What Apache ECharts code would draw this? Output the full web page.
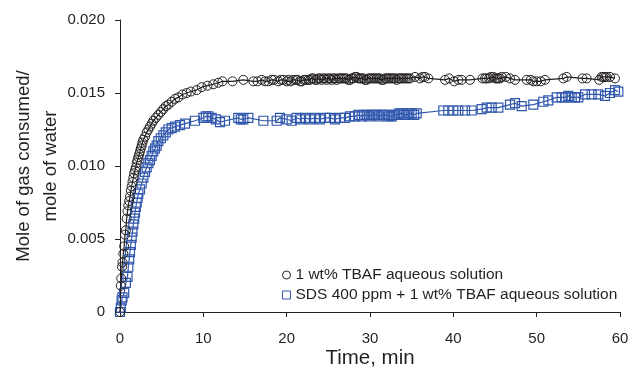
<!DOCTYPE html>
<html><head><meta charset="utf-8">
<script src="https://cdn.jsdelivr.net/npm/echarts@6/dist/echarts.min.js"></script>
<style>html,body{margin:0;padding:0;background:#fff}#c{width:628px;height:374px}</style>
</head><body><div id="c"></div>
<script>
const seriesNames = ['1 wt% TBAF aqueous solution', 'SDS 400 ppm + 1 wt% TBAF aqueous solution'];
const xTicks = [0, 10, 20, 30, 40, 50, 60];
const yTicks = [0, 0.005, 0.010, 0.015, 0.020];

const tbafTime = [0,0.1,0.15,0.25,0.3,0.4,0.5,0.6,0.7,0.8,0.9,1.0,1.1,1.2,1.3,1.4,1.5,1.6,1.7,1.8,1.9,2.0,2.1,2.2,2.3,2.4,2.5,2.6,2.7,2.8,3.0,3.2,3.4,3.6,3.8,4.0,4.3,4.6,4.9,5.2,5.5,5.8,6.2,6.6,7.0,7.5,8.0,8.5,9.2,9.8,10.5,11.2,11.8,12.3,13.5,14.8,16.0,16.5,17.0,17.4,17.8,18.2,18.5,19.0,19.3,19.6,20.0,20.2,20.5,20.8,21.1,21.3,21.6,21.8,22.1,22.3,22.6,22.8,23.0,23.2,23.4,23.6,23.8,24.0,24.2,24.4,24.6,24.8,25.0,25.2,25.4,25.6,25.8,26.0,26.2,26.4,26.6,26.8,27.0,27.2,27.4,27.6,27.8,28.0,28.2,28.4,28.6,28.8,29.0,29.2,29.4,29.6,29.8,30.0,30.2,30.4,30.6,30.8,31.0,31.2,31.4,31.6,31.8,32.0,32.2,32.4,32.6,32.8,33.0,33.2,33.4,33.6,33.8,34.0,34.2,34.4,34.6,34.8,35.4,36.0,36.3,36.6,37.0,39.0,39.5,40.1,40.6,41.0,42.0,43.5,43.8,44.0,44.3,44.5,44.8,45.0,45.2,45.4,45.6,45.8,46.3,46.8,47.4,48.8,49.3,49.6,50.0,50.5,51.0,53.2,53.6,55.5,56.0,57.5,57.8,58.0,58.2,58.4,58.8,59.4];
const tbafValue = [0,0.0018,0.0023,0.0031,0.0034,0.0040,0.0045,0.0053,0.0056,0.0064,0.0069,0.0073,0.0076,0.0079,0.0083,0.0086,0.0089,0.0092,0.0095,0.0097,0.0099,0.0102,0.0104,0.0106,0.0108,0.0110,0.0112,0.0114,0.0116,0.0118,0.0120,0.0123,0.0125,0.0127,0.0129,0.0131,0.0133,0.0135,0.0137,0.0139,0.0141,0.0142,0.0144,0.0146,0.0147,0.0149,0.0150,0.0151,0.0152,0.0154,0.0155,0.0156,0.0157,0.0158,0.0158,0.0159,0.0158,0.0158,0.0159,0.0158,0.0158,0.0159,0.0159,0.0158,0.0159,0.0159,0.0158,0.0159,0.0158,0.0159,0.0159,0.0159,0.0158,0.0158,0.0159,0.0159,0.0159,0.0159,0.0160,0.0160,0.0159,0.0159,0.0160,0.0160,0.0159,0.0160,0.0160,0.0159,0.0160,0.0160,0.0159,0.0160,0.0160,0.0159,0.0160,0.0160,0.0160,0.0160,0.0160,0.0160,0.0159,0.0159,0.0160,0.0160,0.0161,0.0161,0.0160,0.0160,0.0160,0.0160,0.0159,0.0159,0.0160,0.0160,0.0160,0.0160,0.0160,0.0160,0.0160,0.0160,0.0159,0.0159,0.0160,0.0160,0.0160,0.0160,0.0160,0.0160,0.0160,0.0159,0.0160,0.0160,0.0160,0.0160,0.0160,0.0160,0.0160,0.0160,0.0161,0.0160,0.0161,0.0161,0.0160,0.0159,0.0160,0.0158,0.0159,0.0159,0.0159,0.0160,0.0160,0.0160,0.0160,0.0161,0.0161,0.0160,0.0160,0.0160,0.0160,0.0161,0.0161,0.0160,0.0159,0.0159,0.0159,0.0158,0.0158,0.0158,0.0159,0.0160,0.0161,0.0160,0.0160,0.0159,0.0161,0.0161,0.0161,0.0161,0.0161,0.0160,0.0160];

const sdsTime = [0,0.1,0.2,0.3,0.5,0.7,0.9,1.0,1.1,1.2,1.3,1.4,1.5,1.6,1.7,1.8,1.9,2.0,2.1,2.2,2.4,2.6,2.8,3.0,3.2,3.4,3.6,3.8,4.0,4.2,4.4,4.6,4.9,5.2,5.5,5.8,6.2,6.6,7.2,7.8,9.0,10.0,10.3,10.6,11.0,11.5,12.0,12.6,14.2,14.5,14.8,15.4,17.2,18.8,19.2,20.0,20.6,21.2,21.6,22.2,22.8,23.4,24.0,24.6,25.2,25.8,26.4,27.0,27.6,28.2,28.6,29.0,29.3,29.6,29.9,30.2,30.5,30.8,31.1,31.4,31.7,32.0,32.3,32.6,32.9,33.2,33.5,33.8,34.1,34.4,34.7,35.0,35.3,35.6,38.8,39.4,40.0,40.6,41.4,42.2,43.4,44.0,44.6,45.4,46.8,47.4,48.2,49.6,50.8,51.4,52.4,53.0,53.4,53.8,54.2,54.6,55.0,55.8,56.6,57.4,58.2,58.8,59.4,59.8];
const sdsValue = [0,0.0003,0.0008,0.0010,0.0013,0.0020,0.0024,0.0031,0.0036,0.0041,0.0046,0.0051,0.0055,0.0060,0.0064,0.0068,0.0072,0.0075,0.0078,0.0081,0.0084,0.0088,0.0092,0.0096,0.0099,0.0102,0.0104,0.0107,0.0110,0.0112,0.0114,0.0117,0.0119,0.0121,0.0123,0.0125,0.0126,0.0127,0.0128,0.0129,0.0131,0.0133,0.0134,0.0134,0.0133,0.0132,0.0130,0.0131,0.0133,0.0132,0.0132,0.0133,0.0131,0.0131,0.0133,0.0132,0.0131,0.0133,0.0132,0.0133,0.0132,0.0133,0.0132,0.0133,0.0133,0.0132,0.0133,0.0133,0.0134,0.0134,0.0135,0.0134,0.0135,0.0135,0.0134,0.0135,0.0135,0.0135,0.0134,0.0135,0.0135,0.0135,0.0134,0.0134,0.0135,0.0135,0.0136,0.0136,0.0135,0.0135,0.0136,0.0136,0.0135,0.0136,0.0138,0.0138,0.0138,0.0138,0.0138,0.0138,0.0139,0.0140,0.0140,0.0140,0.0142,0.0143,0.0141,0.0142,0.0144,0.0145,0.0147,0.0147,0.0147,0.0148,0.0147,0.0147,0.0147,0.0149,0.0149,0.0149,0.0148,0.0150,0.0152,0.0151];

const ink = '#231f20';
const blue = '#3157ad';
const font = 'Liberation Sans, Arial, sans-serif';
const zip = (a, b) => a.map((t, i) => [t, b[i]]);

const chart = echarts.init(document.getElementById('c'), null, {renderer: 'canvas'});
chart.setOption({
  animation: false,
  backgroundColor: '#fff',
  textStyle: {fontFamily: font},
  grid: {left: 120, right: 8, top: 20, bottom: 62, containLabel: false, outerBoundsMode: 'none'},
  legend: {
    orient: 'vertical', left: 277, top: 261, itemWidth: 8, itemHeight: 8, itemGap: 2,
    textStyle: {fontFamily: font, fontSize: 15.5, color: ink, lineHeight: 18},
    data: [
      {name: seriesNames[0], icon: 'circle', itemStyle: {color: '#fff', borderColor: ink, borderWidth: 1}},
      {name: seriesNames[1], icon: 'rect', itemStyle: {color: '#fff', borderColor: blue, borderWidth: 1}}
    ]
  },
  xAxis: {
    type: 'value', min: xTicks[0], max: xTicks[xTicks.length - 1], interval: 10,
    name: 'Time, min', nameLocation: 'middle', nameGap: 36, nameMoveOverlap: false,
    nameTextStyle: {fontFamily: font, fontSize: 20.5, color: ink},
    axisLine: {lineStyle: {color: ink, width: 1}},
    axisTick: {length: 5, lineStyle: {color: ink}},
    axisLabel: {fontFamily: font, fontSize: 15, color: ink, margin: 19},
    splitLine: {show: false}
  },
  yAxis: {
    type: 'value', min: yTicks[0], max: yTicks[yTicks.length - 1], interval: 0.005,
    name: 'Mole of gas consumed/\nmole of water', nameLocation: 'middle', nameGap: 56, nameRotate: 90,
    nameMoveOverlap: false,
    nameTextStyle: {fontFamily: font, fontSize: 18.5, color: ink, lineHeight: 27},
    axisLine: {show: true, lineStyle: {color: ink, width: 1}},
    axisTick: {show: true, length: 5, lineStyle: {color: ink}},
    axisLabel: {fontFamily: font, fontSize: 15, color: ink, margin: 15,
      formatter: v => v === 0 ? '0' : v.toFixed(3)},
    splitLine: {show: false}
  },
  series: [
    {
      name: seriesNames[0], type: 'line', data: zip(tbafTime, tbafValue),
      symbol: 'circle', symbolSize: 9, showAllSymbol: true,
      lineStyle: {color: ink, width: 1.2},
      itemStyle: {color: 'rgba(255,255,255,0)', borderColor: ink, borderWidth: 1},
      z: 3
    },
    {
      name: seriesNames[1], type: 'line', data: zip(sdsTime, sdsValue),
      symbol: 'rect', symbolSize: 9, showAllSymbol: true,
      lineStyle: {color: blue, width: 1.2},
      itemStyle: {color: 'rgba(255,255,255,0)', borderColor: blue, borderWidth: 1.2},
      z: 2
    }
  ]
});
</script></body></html>
